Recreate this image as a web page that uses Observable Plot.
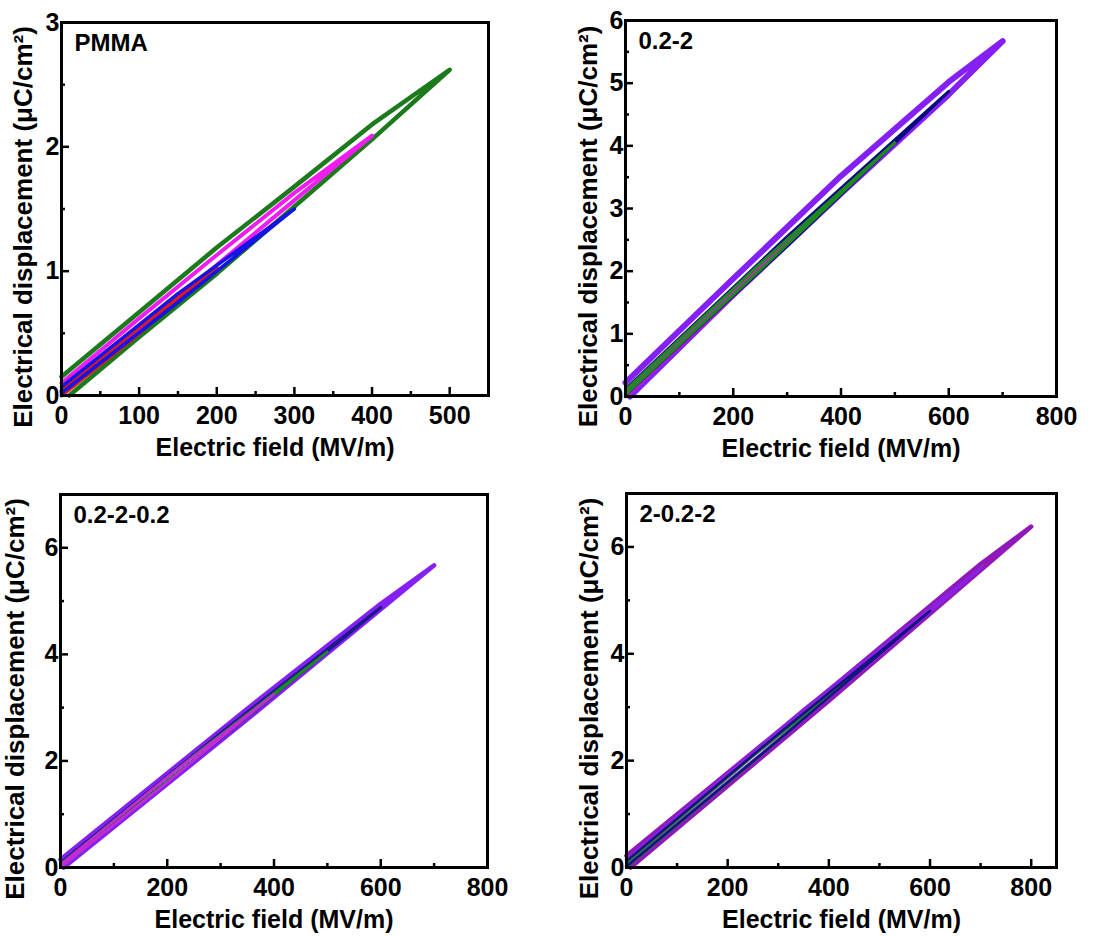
<!DOCTYPE html>
<html>
<head>
<meta charset="utf-8">
<script src="https://cdn.jsdelivr.net/npm/d3@7"></script>
<script src="https://cdn.jsdelivr.net/npm/@observablehq/plot@0.6"></script>
<style>
  html, body { margin: 0; padding: 0; background: #fff; }
  #wrap { position: relative; width: 1113px; height: 936px; background: #fff; }
  .panel { position: absolute; }
</style>
</head>
<body>
<div id="wrap"></div>
<script>
// ---------- Data (E in MV/m, D in µC/cm²) ----------
const xLabel = "Electric field (MV/m)";
const yLabel = "Electrical displacement (μC/cm²)";
const panelNames = ["PMMA", "0.2-2", "0.2-2-0.2", "2-0.2-2"];

// PMMA loops
const pmma500 = [[10,0],[100,0.47],[200,0.98],[300,1.52],[400,2.06],[500,2.62],[400,2.18],[300,1.68],[200,1.19],[100,0.67],[0,0.15]];
const pmma400 = [[0,0.03],[200,1.05],[400,2.09],[300,1.63],[200,1.13],[100,0.62],[0,0.1]];
const pmma200 = [[0,0],[100,0.5],[200,1.03],[100,0.55],[0,0.04]];
const pmma300 = [[0,0.02],[150,0.75],[300,1.5],[150,0.82],[0,0.07]];

// 0.2-2 loops
const a700 = [[8,0],[200,1.62],[400,3.24],[600,4.82],[700,5.67],[600,5.02],[400,3.52],[200,1.88],[0,0.22]];
const a600 = [[0,0.02],[300,2.4],[600,4.87],[300,2.55],[0,0.12]];
const a500 = [[0,0.03],[250,2.02],[500,4.05],[250,2.12],[0,0.1]];
const a400 = [[0,0],[200,1.6],[400,3.25],[200,1.68],[0,0.05]];

// 0.2-2-0.2 loops
const b700 = [[6,0],[350,2.78],[700,5.67],[600,4.95],[350,2.98],[0,0.15]];
const b600 = [[0,0.02],[300,2.42],[600,4.88],[300,2.52],[0,0.08]];
const b500 = [[0,0],[250,2.02],[500,4.05],[250,2.1],[0,0.06]];
const b400 = [[0,0],[200,1.6],[400,3.25],[200,1.7],[0,0.05]];

// 2-0.2-2 loops
const c800 = [[8,0],[400,3.12],[800,6.38],[700,5.68],[400,3.32],[0,0.22]];
const c700 = [[0,0.02],[350,2.78],[700,5.6],[350,2.95],[0,0.15]];
const c600 = [[0,0.02],[300,2.38],[600,4.8],[300,2.5],[0,0.12]];
const c500 = [[0,0],[250,1.98],[500,4.0],[250,2.08],[0,0.08]];

// Axis ticks
const xTicks550 = [0,100,200,300,400,500];
const xMinor550 = [50,150,250,350,450];
const xTicks800 = [0,200,400,600,800];
const xMinor800 = [100,300,500,700];
const yTicks3 = [0,1,2,3];
const yMinor3 = [0.5,1.5,2.5];
const yTicks6 = [0,1,2,3,4,5,6];
const yMinor6 = [0.5,1.5,2.5,3.5,4.5,5.5];
const yTicks7 = [0,2,4,6];
const yMinor7 = [1,3,5];

// ---------- Layout / styles ----------
const panels = [
  {name: panelNames[0], left: 0, top: 0, w: 556, h: 468, ml: 61, mr: 68, mt: 22, mb: 73,
   xDomain: [0,550], yDomain: [0,3], xTicks: xTicks550, xMinor: xMinor550, yTicks: yTicks3, yMinor: yMinor3, yOff: 48,
   loops: [{pts: pmma500, color: "#1b7a1b", w: 4.5}, {pts: pmma400, color: "#f01cf0", w: 4},
           {pts: pmma200, color: "#e01818", w: 4}, {pts: pmma300, color: "#1414e6", w: 3.5}]},
  {name: panelNames[1], left: 556, top: 0, w: 557, h: 468, ml: 69, mr: 57, mt: 20, mb: 72,
   xDomain: [0,800], yDomain: [0,6], xTicks: xTicks800, xMinor: xMinor800, yTicks: yTicks6, yMinor: yMinor6, yOff: 47,
   loops: [{pts: a700, color: "#8420f4", w: 6}, {pts: a400, color: "#d41ed4", w: 3.5},
           {pts: a600, color: "#0a0a80", w: 3}, {pts: a500, color: "#1e8a1e", w: 3}]},
  {name: panelNames[2], left: 0, top: 468, w: 556, h: 468, ml: 60, mr: 69, mt: 26, mb: 69,
   xDomain: [0,800], yDomain: [0,7], xTicks: xTicks800, xMinor: xMinor800, yTicks: yTicks7, yMinor: yMinor7, yOff: 55,
   loops: [{pts: b700, color: "#8420f4", w: 4.5}, {pts: b600, color: "#1a1a8a", w: 3},
           {pts: b500, color: "#1e8a1e", w: 2.5}, {pts: b400, color: "#c828d8", w: 2.5}]},
  {name: panelNames[3], left: 556, top: 468, w: 557, h: 468, ml: 70, mr: 57, mt: 25, mb: 69,
   xDomain: [0,850], yDomain: [0,7], xTicks: xTicks800, xMinor: xMinor800, yTicks: yTicks7, yMinor: yMinor7, yOff: 47,
   loops: [{pts: c800, color: "#9018b8", w: 4.5}, {pts: c700, color: "#8a20e0", w: 3.5},
           {pts: c500, color: "#2a7a3a", w: 2.5}, {pts: c600, color: "#141480", w: 2.5}]}
];

const font = "'Liberation Sans', Arial, Helvetica, sans-serif";
const fmt = d => String(d);

function makePanel(p) {
  return Plot.plot({
    width: p.w, height: p.h,
    marginLeft: p.ml, marginRight: p.mr, marginTop: p.mt, marginBottom: p.mb,
    style: {fontFamily: font, fontWeight: "bold", fontSize: "25px", color: "black", background: "white", overflow: "visible"},
    x: {domain: p.xDomain},
    y: {domain: p.yDomain},
    marks: [
      ...p.loops.map(l => Plot.line(l.pts, {x: d => d[0], y: d => d[1], stroke: l.color, strokeWidth: l.w, strokeLinejoin: "round", strokeLinecap: "round"})),
      Plot.axisX(p.xMinor, {tickSize: -4, fill: "none", stroke: "black", strokeWidth: 2.5, label: null}),
      Plot.axisY(p.yMinor, {tickSize: -4, fill: "none", stroke: "black", strokeWidth: 2.5, label: null}),
      Plot.axisX(p.xTicks, {tickSize: -8, tickPadding: 19, strokeWidth: 2.5, label: null, tickFormat: fmt, fontSize: 25}),
      Plot.axisY(p.yTicks, {tickSize: -8, tickPadding: 10, strokeWidth: 2.5, label: null, tickFormat: fmt, fontSize: 25}),
      Plot.frame({stroke: "black", strokeWidth: 3}),
      Plot.text([xLabel], {text: d => d, frameAnchor: "bottom", dy: 60, lineAnchor: "bottom", fontSize: 25}),
      Plot.text([yLabel], {text: d => d, frameAnchor: "left", rotate: -90, dx: -p.yOff, dy: 18, lineAnchor: "top", textAnchor: "middle", fontSize: 26}),
      Plot.text([p.name], {text: d => d, frameAnchor: "top-left", dx: 13, dy: 11, lineAnchor: "top", textAnchor: "start", fontSize: 24})
    ]
  });
}

const wrap = document.getElementById("wrap");
for (const p of panels) {
  const div = document.createElement("div");
  div.className = "panel";
  div.style.left = p.left + "px";
  div.style.top = p.top + "px";
  div.appendChild(makePanel(p));
  wrap.appendChild(div);
}
</script>
</body>
</html>
